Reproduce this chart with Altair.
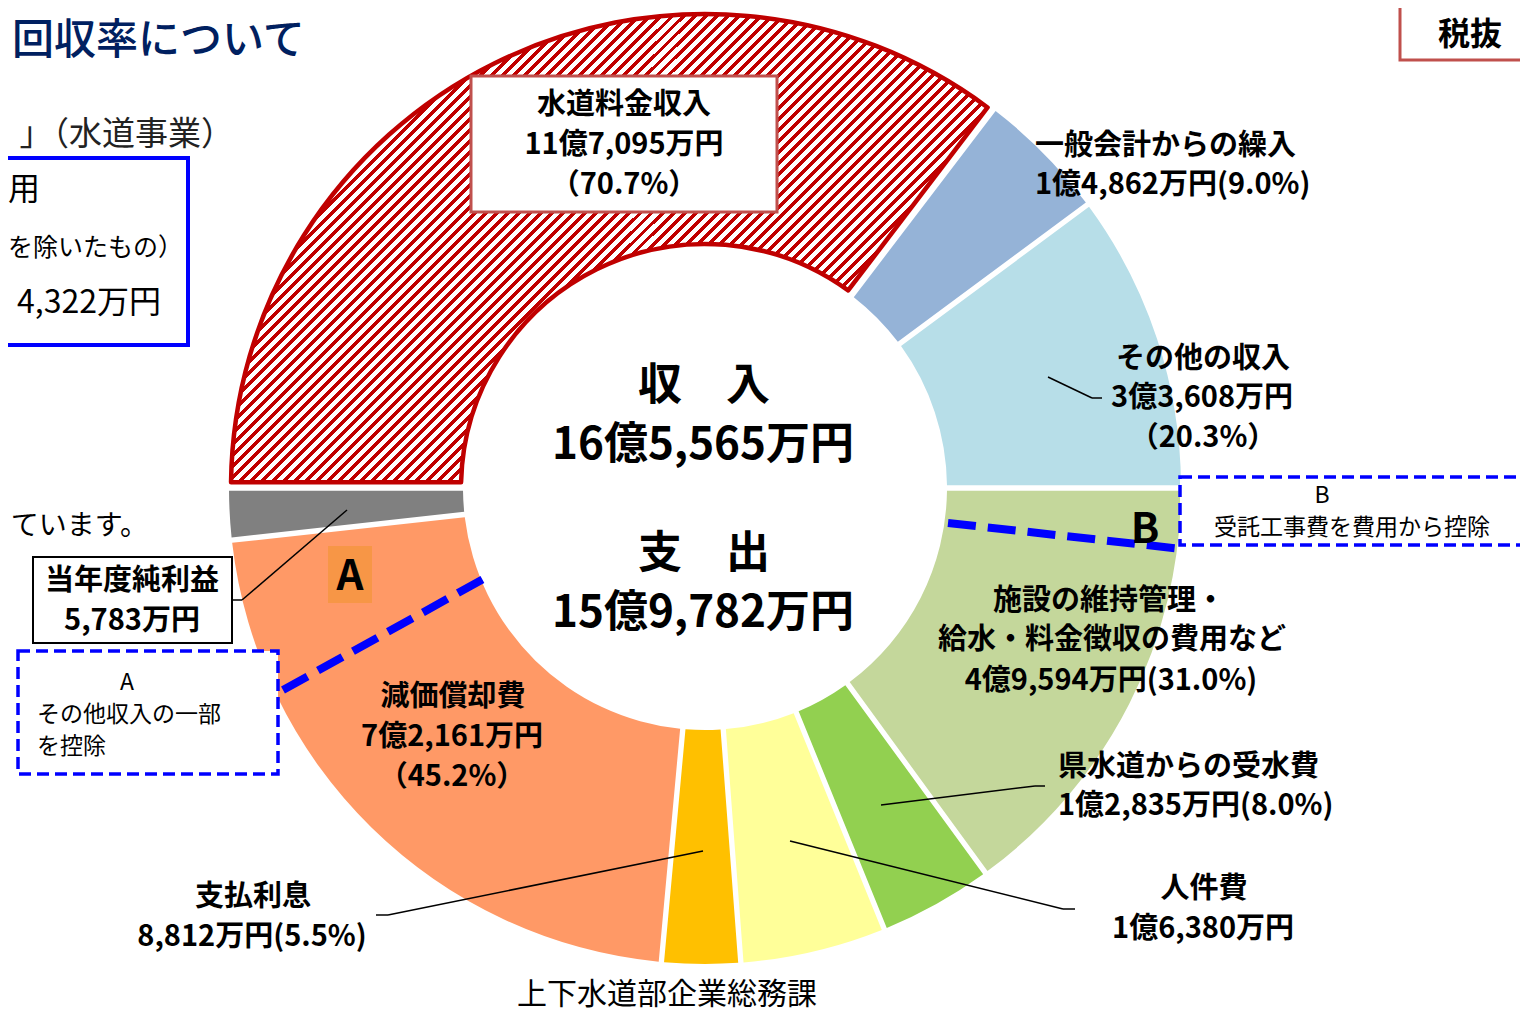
import math
import altair as alt
import pandas as pd

# ---------------- data ----------------
names = ["水道料金収入", "一般会計からの繰入", "その他の収入",
         "施設の維持管理・給水・料金徴収の費用など", "県水道からの受水費",
         "人件費", "支払利息", "減価償却費", "当年度純利益"]
values = [117095, 14862, 33608, 49594, 12835, 16380, 8812, 72161, 5783]
colors = ["#C00000", "#95B3D7", "#B7DEE8", "#C4D79B", "#92D050",
          "#FFFF99", "#FFC000", "#FF9966", "#808080"]

total = sum(values)
df = pd.DataFrame({"idx": list(range(len(names))), "name": names, "value": values})

FONT = "Noto Sans CJK JP"
OFF = 8  # page margin


def P(v):
    return v - OFF


CX, CY = P(705), P(488)
R_OUT, R_IN = 476, 242

theta_scale = alt.Scale(domain=[0, total], range=[1.5 * math.pi, 3.5 * math.pi])

base = (
    alt.Chart(df)
    .transform_window(cum="sum(value)", sort=[alt.SortField("idx")], frame=[None, 0])
    .transform_calculate(start="datum.cum - datum.value")
)

enc = dict(
    theta=alt.Theta("start:Q", scale=theta_scale),
    theta2=alt.Theta2("cum:Q"),
    x=alt.value(CX),
    y=alt.value(CY),
)

others = base.transform_filter("datum.idx > 0").mark_arc(
    outerRadius=R_OUT, innerRadius=R_IN, padAngle=0.01, stroke=None
).encode(
    color=alt.Color("name:N", scale=alt.Scale(domain=names, range=colors), legend=None),
    **enc,
)

# hatch pattern through a striped linear gradient
n = 95
frac = 0.45
stops = []
for i in range(n):
    a, b, c = i / n, (i + frac) / n, (i + 1) / n
    stops += [
        {"offset": a, "color": "#C00000"},
        {"offset": b, "color": "#C00000"},
        {"offset": b, "color": "#FFFFFF"},
        {"offset": c, "color": "#FFFFFF"},
    ]
hatch = {"gradient": "linear", "x1": 0, "y1": 0, "x2": 1, "y2": 0.62, "stops": stops}

hatched = base.transform_filter("datum.idx == 0").mark_arc(
    outerRadius=R_OUT - 2, innerRadius=R_IN + 2, padAngle=0.022,
    fill=hatch, stroke="#C00000", strokeWidth=4.5, strokeJoin="round",
).encode(**enc)

layers = [others, hatched]


# ---------------- helpers ----------------
def segs(rows, color="black", width=1.5, dash=None, cap="butt"):
    d = pd.DataFrame(rows, columns=["x", "y", "x2", "y2"])
    for c in d.columns:
        d[c] = d[c] - OFF
    kw = dict(color=color, strokeWidth=width, strokeCap=cap)
    if dash:
        kw["strokeDash"] = dash
    return alt.Chart(d).mark_rule(**kw).encode(
        x=alt.X("x:Q", scale=None), y=alt.Y("y:Q", scale=None),
        x2="x2:Q", y2="y2:Q",
    )


def box(x1, y1, x2, y2, stroke, width, fill="white", dash=None):
    kw = dict(fill=fill, stroke=stroke, strokeWidth=width)
    if dash:
        kw["strokeDash"] = dash
    d = pd.DataFrame({"x": [P(x1)], "y": [P(y1)], "x2": [P(x2)], "y2": [P(y2)]})
    return alt.Chart(d).mark_rect(**kw).encode(
        x=alt.X("x:Q", scale=None), y=alt.Y("y:Q", scale=None),
        x2="x2:Q", y2="y2:Q",
    )


def texts(rows, size, weight="bold", align="center", color="black"):
    d = pd.DataFrame(rows, columns=["t", "x", "y"])
    d["x"] = d["x"] - OFF
    d["y"] = d["y"] - OFF
    return alt.Chart(d).mark_text(
        font=FONT, fontSize=size, fontWeight=weight, align=align,
        baseline="middle", color=color,
    ).encode(x=alt.X("x:Q", scale=None), y=alt.Y("y:Q", scale=None), text="t:N")


# ---------------- blue dashed divider lines ----------------
layers.append(segs([(283, 690, 485, 578)], color="#0000FF", width=8, dash=[28, 12]))
layers.append(segs([(948, 523, 1182, 549)], color="#0000FF", width=8, dash=[28, 12]))

# ---------------- leader lines ----------------
layers.append(segs([
    (232, 600, 242, 600), (242, 600, 347, 510),
    (1048, 377, 1092, 398), (1092, 398, 1102, 398),
    (881, 805, 1035, 786), (1035, 786, 1045, 786),
    (790, 841, 1063, 909), (1063, 909, 1075, 909),
    (703, 851, 388, 915), (388, 915, 376, 915),
], color="black", width=1.5))

# ---------------- boxes ----------------
layers.append(box(471, 76, 777, 212, "#C0504D", 3))
layers.append(box(33, 557, 232, 643, "black", 2))
layers.append(box(328, 546, 372, 603, None, 0, fill="#F79646"))
layers.append(box(18, 651, 278, 774, "#0000FF", 3.5, dash=[12, 6]))
layers.append(box(1180, 477, 1527, 545, "#0000FF", 3.5, dash=[12, 6]))
layers.append(box(-20, 158, 188, 345, "#0000FF", 4))
layers.append(box(1400, -10, 1560, 60, "#C0504D", 3))

# ---------------- labels ----------------
layers.append(texts([
    ("水道料金収入", 624, 105), ("11億7,095万円", 624, 145), ("（70.7%）", 624, 185),
    ("その他の収入", 1203, 359), ("3億3,608万円", 1202, 398), ("（20.3%）", 1203, 438),
    ("施設の維持管理・", 1109, 601), ("給水・料金徴収の費用など", 1112, 640),
    ("4億9,594万円(31.0%)", 1111, 681),
    ("人件費", 1204, 889), ("1億6,380万円", 1203, 929),
    ("支払利息", 253, 897), ("8,812万円(5.5%)", 252, 937),
    ("減価償却費", 453, 697), ("7億2,161万円", 452, 737), ("（45.2%）", 452, 777),
    ("当年度純利益", 132, 581), ("5,783万円", 132, 621),
], 29))
layers.append(texts([
    ("一般会計からの繰入", 1035, 146), ("1億4,862万円(9.0%)", 1035, 185),
    ("県水道からの受水費", 1058, 767), ("1億2,835万円(8.0%)", 1058, 806),
], 29, align="left"))
layers.append(texts([
    ("収　入", 704, 387), ("16億5,565万円", 703, 446),
    ("支　出", 704, 555), ("15億9,782万円", 703, 614),
], 44))
layers.append(texts([("A", 350, 577), ("B", 1145, 530)], 42))
layers.append(texts([("A", 127, 683), ("B", 1322, 496),
                     ("受託工事費を費用から控除", 1352, 528)], 23, weight="normal"))
layers.append(texts([("その他収入の一部", 37, 715), ("を控除", 37, 747)], 23,
                    weight="normal", align="left"))

# slide fragments around the chart
layers.append(texts([("回収率について", 12, 41)], 42, weight=500,
                    align="left", color="#002060"))
layers.append(texts([("」（水道事業）", 234, 135)], 33, weight="normal",
                    align="right", color="#222222"))
layers.append(texts([("用", 40, 190)], 32, weight="normal", align="right"))
layers.append(texts([("を除いたもの）", 183, 248)], 25, weight="normal",
                    align="right"))
layers.append(texts([("4,322万円", 161, 303)], 32, weight="normal", align="right"))
layers.append(texts([("ています。", 148, 527)], 28, weight="normal", align="right"))
layers.append(texts([("税抜", 1438, 35)], 32, align="left"))
layers.append(texts([("上下水道部企業総務課", 667, 995)], 30, weight="normal"))

chart = alt.layer(*layers).properties(
    width=1512, height=1009,
    autosize=alt.AutoSizeParams(type="none"),
    padding=0,
).configure_view(stroke=None)

chart.save("out.html", embed_options={"renderer": "svg", "actions": False})
